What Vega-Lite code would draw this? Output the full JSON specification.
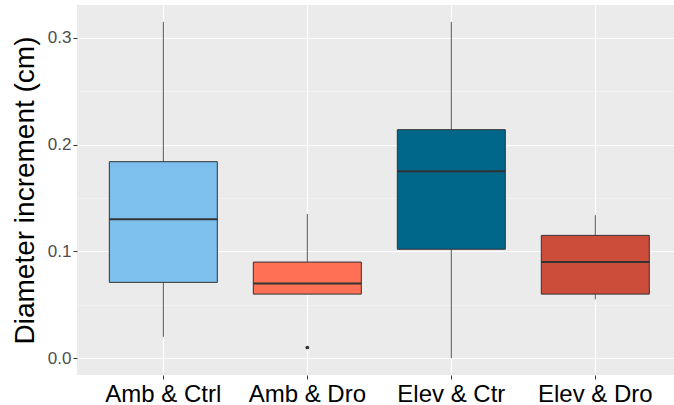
{
  "$schema": "https://vega.github.io/schema/vega-lite/v6.json",
  "autosize": "none",
  "width": 597,
  "height": 370,
  "padding": {"left": 77, "top": 5, "right": 0, "bottom": 30},
  "background": "white",
  "config": {
    "view": {"fill": "#EBEBEB", "stroke": null},
    "font": "Liberation Sans"
  },
  "datasets": {
    "boxes": [
      {"group": "Amb & Ctrl", "lower": 0.02, "q1": 0.071, "median": 0.13, "q3": 0.184, "upper": 0.315},
      {"group": "Amb & Dro", "lower": 0.06, "q1": 0.06, "median": 0.07, "q3": 0.09, "upper": 0.135},
      {"group": "Elev & Ctr", "lower": 0.0, "q1": 0.102, "median": 0.175, "q3": 0.214, "upper": 0.315},
      {"group": "Elev & Dro", "lower": 0.055, "q1": 0.06, "median": 0.09, "q3": 0.115, "upper": 0.134}
    ],
    "outliers": [
      {"group": "Amb & Dro", "value": 0.01}
    ]
  },
  "encoding": {
    "x": {
      "field": "group",
      "type": "nominal",
      "sort": ["Amb & Ctrl", "Amb & Dro", "Elev & Ctr", "Elev & Dro"],
      "scale": {"type": "band", "paddingInner": 0.25, "paddingOuter": 0.198, "align": 0.567},
      "axis": {
        "title": null,
        "labelAngle": 0,
        "labelFontSize": 24,
        "labelColor": "#000000",
        "labelBaseline": "alphabetic",
        "labelPadding": 22,
        "tickColor": "#333333",
        "tickSize": 4,
        "domain": false,
        "grid": true,
        "gridColor": "#FFFFFF",
        "gridWidth": 1.2
      }
    }
  },
  "layer": [
    {
      "data": {"name": "boxes"},
      "mark": {"type": "rule", "color": "#555555", "strokeWidth": 1},
      "encoding": {
        "y": {
          "field": "lower",
          "type": "quantitative",
          "scale": {"domain": [-0.01575, 0.33075], "nice": false, "zero": false},
          "axis": {
            "values": [0, 0.1, 0.2, 0.3],
            "format": ".1f",
            "title": "Diameter increment (cm)",
            "titleFontSize": 28,
            "titleFontWeight": "normal",
            "titleColor": "#000000",
            "titlePadding": 8,
            "labelFontSize": 17,
            "labelColor": "#4D4D4D",
            "labelPadding": 2,
            "tickColor": "#333333",
            "tickSize": 4,
            "domain": false,
            "grid": true,
            "gridColor": "#FFFFFF",
            "gridWidth": 1.2
          }
        },
        "y2": {"field": "upper"}
      }
    },
    {
      "data": {"name": "boxes"},
      "mark": {"type": "rule", "opacity": 0},
      "encoding": {
        "y": {
          "field": "median",
          "type": "quantitative",
          "axis": {
            "values": [0.05, 0.15, 0.25],
            "orient": "left",
            "title": null,
            "labels": false,
            "ticks": false,
            "domain": false,
            "grid": true,
            "gridColor": "#F7F7F7",
            "gridWidth": 0.6
          }
        }
      }
    },
    {
      "data": {"name": "boxes"},
      "mark": {"type": "bar", "stroke": "#333333", "strokeWidth": 1},
      "encoding": {
        "y": {"field": "q1", "type": "quantitative"},
        "y2": {"field": "q3"},
        "fill": {
          "field": "group",
          "type": "nominal",
          "legend": null,
          "scale": {
            "domain": ["Amb & Ctrl", "Amb & Dro", "Elev & Ctr", "Elev & Dro"],
            "range": ["#7DC0EE", "#FF7054", "#00668A", "#CC4E3A"]
          }
        }
      }
    },
    {
      "data": {"name": "boxes"},
      "mark": {"type": "bar", "stroke": "#333333", "strokeWidth": 2, "fillOpacity": 0},
      "encoding": {
        "y": {"field": "median", "type": "quantitative"},
        "y2": {"field": "median"}
      }
    },
    {
      "data": {"name": "outliers"},
      "mark": {"type": "point", "filled": true, "size": 14, "color": "#333333", "opacity": 1},
      "encoding": {
        "y": {"field": "value", "type": "quantitative"}
      }
    }
  ],
  "resolve": {"axis": {"y": "independent"}}
}
